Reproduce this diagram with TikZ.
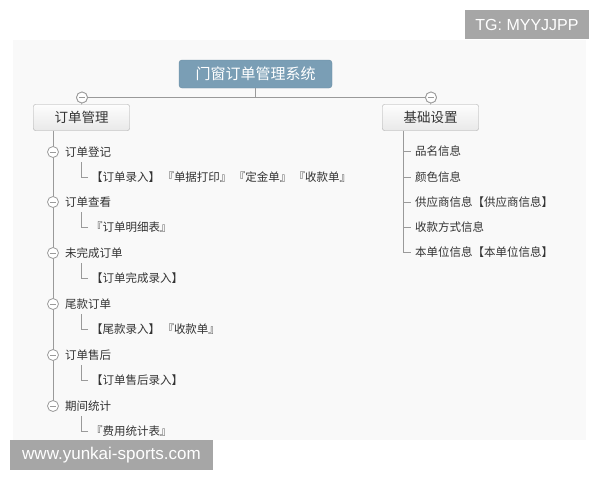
\documentclass[tikz,border=0pt]{standalone}
\usepackage{fontspec}
\setmainfont{Liberation Sans}
\newfontfamily\cjk{Noto Sans CJK SC}
\usetikzlibrary{calc}
\definecolor{panel}{HTML}{F9F9F9}
\definecolor{rootblue}{HTML}{7A9EB5}
\definecolor{rootedge}{HTML}{6A8DA3}
\definecolor{linegray}{HTML}{9A9A9A}
\definecolor{txt}{HTML}{333333}
\definecolor{wm}{HTML}{A6A6A6}
\definecolor{boxtop}{HTML}{FDFDFD}
\definecolor{boxbot}{HTML}{E9E9E9}
\definecolor{boxedge}{HTML}{A8A8A8}
\newcommand{\gsep}{\hspace{2.3pt}}
\begin{document}
\begin{tikzpicture}[x=1pt,y=-1pt,
  conn/.style={draw=linegray,line width=0.8pt},
  rootbox/.style={draw=rootedge,fill=rootblue,rounded corners=3pt,text=white,
    minimum width=153pt,minimum height=28pt,inner sep=0pt,
    font=\cjk\fontsize{15}{17}\selectfont},
  catbox/.style={draw=boxedge,top color=boxtop,bottom color=boxbot,rounded corners=2pt,
    text=txt,minimum width=96pt,minimum height=26pt,inner sep=0pt,
    font=\cjk\fontsize{13.5}{15}\selectfont},
  minusdot/.style={circle,draw=linegray,fill=white,line width=0.8pt,minimum size=11pt,inner sep=0pt,
    path picture={\draw[linegray,line width=0.8pt]
      ([xshift=-3.2pt]path picture bounding box.center) -- ([xshift=3.2pt]path picture bounding box.center);}},
  item/.style={anchor=west,inner sep=0pt,text=txt,font=\cjk\fontsize{11.5}{13}\selectfont},
  wmbox/.style={fill=wm,text=white,inner sep=0pt}
]
\useasboundingbox (0,0) rectangle (600,480);
\fill[white] (0,0) rectangle (600,480);
\fill[panel] (13,40) rectangle (586,440);

% root and categories
\node[rootbox] (root) at (255.5,74) {门窗订单管理系统};
\node[catbox] (cat1) at (81.5,117.5) {订单管理};
\node[catbox] (cat2) at (430.5,117.5) {基础设置};
\node[minusdot] (lc) at (82,97.5) {};
\node[minusdot] (rc) at (431,97.5) {};

% left items
\node[item] (i1) at (65,152) {订单登记};
\node[item] (s1) at (91,177.5) {【订单录入】\gsep『单据打印』\gsep『定金单』\gsep『收款单』};
\node[item] (i2) at (65,202) {订单查看};
\node[item] (s2) at (91,227.5) {『订单明细表』};
\node[item] (i3) at (65,253) {未完成订单};
\node[item] (s3) at (91,278.5) {【订单完成录入】};
\node[item] (i4) at (65,304) {尾款订单};
\node[item] (s4) at (91,329.5) {【尾款录入】\gsep『收款单』};
\node[item] (i5) at (65,355) {订单售后};
\node[item] (s5) at (91,380.5) {【订单售后录入】};
\node[item] (i6) at (65,406) {期间统计};
\node[item] (s6) at (91,431.5) {『费用统计表』};

% right items
\node[item] (r1) at (415,151.5) {品名信息};
\node[item] (r2) at (415,177) {颜色信息};
\node[item] (r3) at (415,202) {供应商信息【供应商信息】};
\node[item] (r4) at (415,227) {收款方式信息};
\node[item] (r5) at (415,252.5) {本单位信息【本单位信息】};

% connectors (behind circles)
\draw[conn] (root.south) -- (root.south |- lc);
\draw[conn] (lc) -- (rc);
\draw[conn] (lc) -- (cat1.north);
\draw[conn] (rc) -- (cat2.north);
\node[minusdot] at (lc) {};
\node[minusdot] at (rc) {};

% left trunk
\coordinate (lt) at (53,130.5);
\draw[conn] (lt) -- (lt |- i6);
\foreach \k in {1,...,6}{
  \node[minusdot] (c\k) at (lt |- i\k) {};
  \draw[conn] (s\k.west) ++(-3,0) -- ++(-6.5,0) -- ++(0,-15.5);
}

% right trunk
\coordinate (rt) at (403,130.5);
\draw[conn] (rt) |- ([xshift=-4pt]r5.west);
\foreach \k in {1,...,4}{
  \draw[conn] (rt |- r\k) -- ([xshift=-4pt]r\k.west);
}

% watermarks
\node[wmbox,minimum width=124pt,minimum height=29pt,font=\fontsize{16}{18}\selectfont] (tg) at (527,24.5) {TG: MYYJJPP};
\node[wmbox,minimum width=203pt,minimum height=30pt,font=\fontsize{17}{19}\selectfont] (www) at (111.5,455) {www.yunkai-sports.com};
\end{tikzpicture}
\end{document}
